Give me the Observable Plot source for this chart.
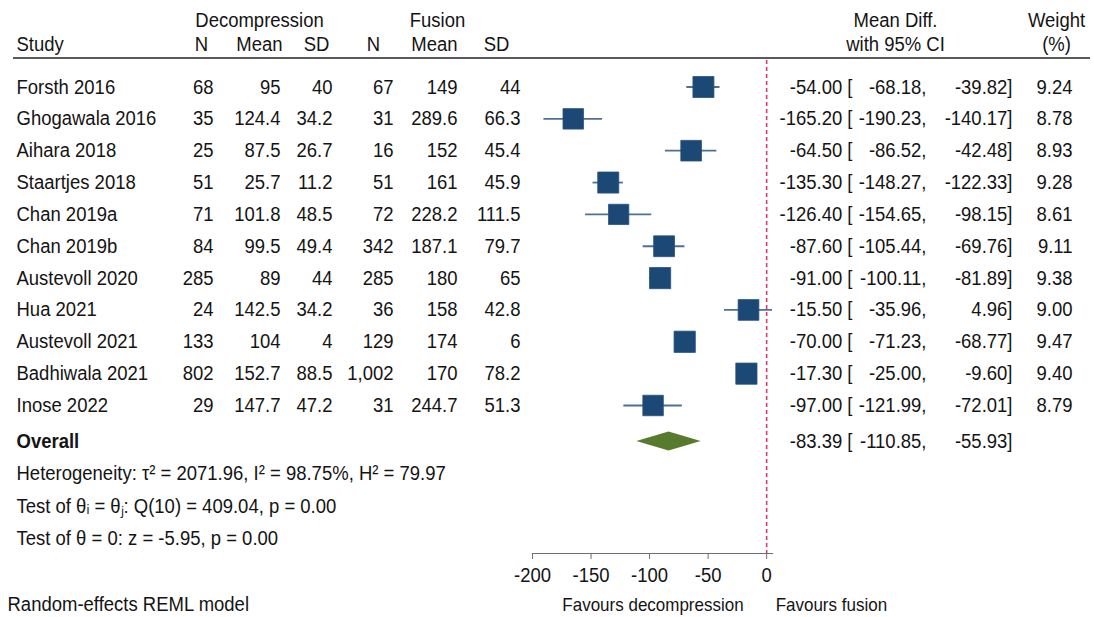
<!DOCTYPE html>
<html>
<head>
<meta charset="utf-8">
<script src="https://cdn.jsdelivr.net/npm/d3@7"></script>
<script src="https://cdn.jsdelivr.net/npm/@observablehq/plot@0.6"></script>
<style>
  body { margin: 0; background: #fff; }
  #chart svg { display: block; }
</style>
</head>
<body>
<div id="chart"></div>
<script>
// Study-level data: decompression alone vs decompression with fusion
const studies = ["Forsth 2016", "Ghogawala 2016", "Aihara 2018", "Staartjes 2018", "Chan 2019a",
  "Chan 2019b", "Austevoll 2020", "Hua 2021", "Austevoll 2021", "Badhiwala 2021", "Inose 2022"];
const decN    = [68, 35, 25, 51, 71, 84, 285, 24, 133, 802, 29];
const decMean = [95, 124.4, 87.5, 25.7, 101.8, 99.5, 89, 142.5, 104, 152.7, 147.7];
const decSD   = [40, 34.2, 26.7, 11.2, 48.5, 49.4, 44, 34.2, 4, 88.5, 47.2];
const fusN    = [67, 31, 16, 51, 72, 342, 285, 36, 129, 1002, 31];
const fusMean = [149, 289.6, 152, 161, 228.2, 187.1, 180, 158, 174, 170, 244.7];
const fusSD   = [44, 66.3, 45.4, 45.9, 111.5, 79.7, 65, 42.8, 6, 78.2, 51.3];
const meanDiff = [-54.00, -165.20, -64.50, -135.30, -126.40, -87.60, -91.00, -15.50, -70.00, -17.30, -97.00];
const ciLow    = [-68.18, -190.23, -86.52, -148.27, -154.65, -105.44, -100.11, -35.96, -71.23, -25.00, -121.99];
const ciHigh   = [-39.82, -140.17, -42.48, -122.33, -98.15, -69.76, -81.89, 4.96, -68.77, -9.60, -72.01];
const weights  = [9.24, 8.78, 8.93, 9.28, 8.61, 9.11, 9.38, 9.00, 9.47, 9.40, 8.79];

// Pooled random-effects estimate
const overallMD = -83.39, overallLow = -110.85, overallHigh = -55.93;

// Axis ticks
const xTicks = [-200, -150, -100, -50, 0];

// Header and footer text
const groupHeaders = ["Decompression", "Fusion"];
const colHeaders = ["Study", "N", "Mean", "SD", "N", "Mean", "SD"];
const ciHeaders = ["Mean Diff.", "with 95% CI"];
const weightHeaders = ["Weight", "(%)"];
const statLines = [
  "Heterogeneity: \u03C4\u00B2 = 2071.96, I\u00B2 = 98.75%, H\u00B2 = 79.97",
  "Test of \u03B8\u1D62 = \u03B8\u2C7C: Q(10) = 409.04, p = 0.00",
  "Test of \u03B8 = 0: z = -5.95, p = 0.00"
];
const modelNote = "Random-effects REML model";
const favourLeft = "Favours decompression";
const favourRight = "Favours fusion";

// number formats with a plain hyphen for negatives
const locale = d3.formatLocale({decimal: ".", thousands: ",", grouping: [3], currency: ["", ""], minus: "-"});
const f2 = locale.format(".2f");
const fN = locale.format(",");

const rows = studies.map((study, i) => ({
  i, study,
  decN: fN(decN[i]), decMean: String(decMean[i]), decSD: String(decSD[i]),
  fusN: fN(fusN[i]), fusMean: String(fusMean[i]), fusSD: String(fusSD[i]),
  md: meanDiff[i], lo: ciLow[i], hi: ciHigh[i], w: weights[i],
  mdText: `${f2(meanDiff[i])} [`, loText: `${f2(ciLow[i])},`, hiText: `${f2(ciHigh[i])}]`, wText: f2(weights[i])
}));

// Layout
const W = 1094, H = 617, ML = 532, MR = 322, MT = 60, MB = 64;
const ink = "#141414";
const font = "'Liberation Sans', Arial, Helvetica, sans-serif";
const FS = 18.5;

// vertical positions in row units (row 0 = first study)
const Y = { group: -2.09, head: -1.32, rule: -0.895, overall: 11.13, stats: [12.13, 13.17, 14.17], foot: 16.25 };

// a text column placed at a pixel offset from the left edge of the SVG
const colText = (data, y, text, px, anchor, extra = {}) =>
  Plot.text(data, {y, text, frameAnchor: "left", dx: px - ML, textAnchor: anchor,
    fill: ink, fontSize: FS, ...extra});
const label = (s, y, px, anchor, extra) => colText([s], () => y, d => d, px, anchor, extra);

// column placements (pixel position of the text anchor)
const cols = [
  {key: "study",   px: 16,   anchor: "start", head: 16,  headAnchor: "start"},
  {key: "decN",    px: 213,  anchor: "end",   head: 201, headAnchor: "middle"},
  {key: "decMean", px: 280,  anchor: "end",   head: 259, headAnchor: "middle"},
  {key: "decSD",   px: 332,  anchor: "end",   head: 316, headAnchor: "middle"},
  {key: "fusN",    px: 393,  anchor: "end",   head: 373, headAnchor: "middle"},
  {key: "fusMean", px: 457,  anchor: "end",   head: 434, headAnchor: "middle"},
  {key: "fusSD",   px: 520,  anchor: "end",   head: 496, headAnchor: "middle"}
];
const rightCols = [
  {key: "mdText", px: 852,  anchor: "end"},
  {key: "loText", px: 926,  anchor: "end"},
  {key: "hiText", px: 1012, anchor: "end"},
  {key: "wText",  px: 1072, anchor: "end"}
];

const blue = "#1c4876";
const ciBlue = "#4d7097";
const green = "#587a2d";
const refRed = "#dc3c66";

// pooled estimate drawn as a diamond spanning its confidence interval
const diamond = [
  {x: overallLow, y1: Y.overall, y2: Y.overall},
  {x: overallMD, y1: Y.overall - 0.3, y2: Y.overall + 0.3},
  {x: overallHigh, y1: Y.overall, y2: Y.overall}
];

const marks = [
  // reference line at zero
  Plot.ruleX([0], {stroke: refRed, strokeWidth: 1.6, strokeDasharray: "4,3"}),
  // axis line
  Plot.frame({anchor: "bottom", stroke: "#6e6e6e", strokeWidth: 1.2}),
  Plot.axisX({ticks: xTicks, tickSize: 6, tickPadding: 8, fontSize: FS, fill: ink,
    stroke: "#6e6e6e", label: null, tickFormat: d => String(d)}),
  // confidence intervals
  Plot.ruleY(rows, {y: "i", x1: "lo", x2: "hi", stroke: ciBlue, strokeWidth: 1.8}),
  // study estimates, area proportional to weight
  Plot.dot(rows, {x: "md", y: "i", r: "w", symbol: "square", fill: blue, stroke: "#27527f", strokeWidth: 0.8}),
  // pooled diamond
  Plot.area(diamond, {x1: "x", y1: "y1", y2: "y2", fill: green}),
  // study table
  ...cols.map(c => colText(rows, "i", c.key, c.px, c.anchor)),
  ...rightCols.map(c => colText(rows, "i", c.key, c.px, c.anchor)),
  // headers
  label(groupHeaders[0], Y.group, 259, "middle"),
  label(groupHeaders[1], Y.group, 437, "middle"),
  ...colHeaders.map((h, k) => label(h, Y.head, cols[k].head, cols[k].headAnchor)),
  label(ciHeaders[0], Y.group, 895, "middle"),
  label(ciHeaders[1], Y.head, 895, "middle"),
  label(weightHeaders[0], Y.group, 1056, "middle"),
  label(weightHeaders[1], Y.head, 1056, "middle"),
  // overall row
  label("Overall", Y.overall, 16, "start", {fontWeight: "bold"}),
  label(`${f2(overallMD)} [`, Y.overall, 852, "end"),
  label(`${f2(overallLow)},`, Y.overall, 926, "end"),
  label(`${f2(overallHigh)}]`, Y.overall, 1012, "end"),
  // statistics
  ...statLines.map((s, k) => label(s, Y.stats[k], 16, "start")),
  // footer
  label(modelNote, Y.foot, 7, "start"),
  Plot.text([favourLeft], {x: 0, y: () => Y.foot, text: d => d, dx: -23, textAnchor: "end", fill: ink, fontSize: 17}),
  Plot.text([favourRight], {x: 0, y: () => Y.foot, text: d => d, dx: 9, textAnchor: "start", fill: ink, fontSize: 17})
];

const chart = Plot.plot({
  width: W, height: H,
  marginLeft: ML, marginRight: MR, marginTop: MT, marginBottom: MB,
  style: {fontFamily: font, fontSize: `${FS}px`, color: ink, background: "#fff", overflow: "visible"},
  x: {domain: [-200, 5], axis: null},
  y: {domain: [-0.832, 14.647], reverse: true, axis: null},
  r: {type: "sqrt", domain: [0, 10], range: [0, 12.33]},
  marks
});

// slightly taller glyphs: stretch each label vertically about its own anchor
d3.select(chart).selectAll("text").each(function() {
  const t = this.getAttribute("transform");
  if (t && t.startsWith("translate")) this.setAttribute("transform", `${t} scale(1,1.1)`);
});

// header rule spanning the full table width
const yRule = chart.scale("y").apply(Y.rule);
d3.select(chart).append("line")
  .attr("x1", 13).attr("x2", 1090)
  .attr("y1", yRule).attr("y2", yRule)
  .attr("stroke", "#5a5a5a").attr("stroke-width", 2);

document.getElementById("chart").appendChild(chart);
</script>
</body>
</html>
